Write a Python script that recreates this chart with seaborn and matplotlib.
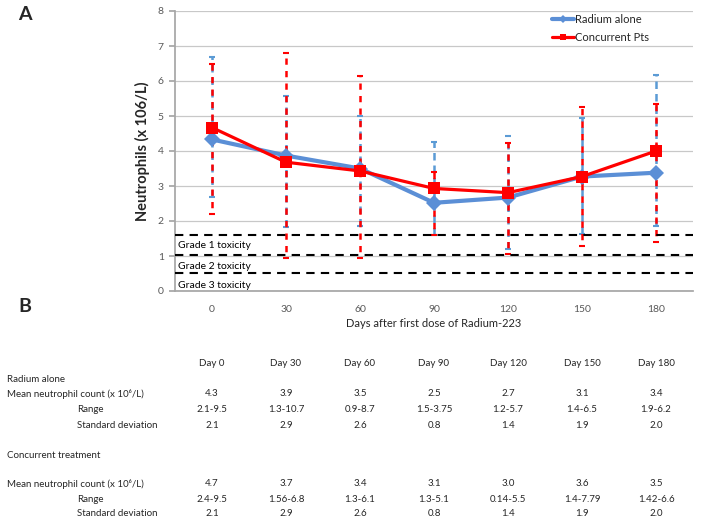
import matplotlib
matplotlib.use("Agg")
import matplotlib.pyplot as plt
import matplotlib.transforms as mtransforms
import seaborn as sns
import pandas as pd

# ---------------- data ----------------
days = ["0", "30", "60", "90", "120", "150", "180"]
radium_mean = [4.33, 3.87, 3.50, 2.52, 2.67, 3.27, 3.38]
radium_hi = [6.68, 5.57, 5.01, 4.27, 4.43, 4.93, 6.16]
radium_lo = [2.68, 1.82, 1.86, 1.61, 1.20, 1.62, 1.86]
conc_mean = [4.67, 3.68, 3.43, 2.93, 2.81, 3.27, 4.00]
conc_hi = [6.48, 6.81, 6.14, 3.40, 4.24, 5.27, 5.33]
conc_lo = [2.19, 0.93, 0.93, 1.61, 1.05, 1.29, 1.41]
tox_levels = [1.6, 1.04, 0.51]
tox_labels = ["Grade 1 toxicity", "Grade 2 toxicity", "Grade 3 toxicity"]
tox_label_y = [1.31, 0.69, 0.15]

table_header = ["Day 0", "Day 30", "Day 60", "Day 90", "Day 120", "Day 150", "Day 180"]
rad_tab_mean = ["4.3", "3.9", "3.5", "2.5", "2.7", "3.1", "3.4"]
rad_tab_range = ["2.1-9.5", "1.3-10.7", "0.9-8.7", "1.5-3.75", "1.2-5.7", "1.4-6.5", "1.9-6.2"]
rad_tab_sd = ["2.1", "2.9", "2.6", "0.8", "1.4", "1.9", "2.0"]
con_tab_mean = ["4.7", "3.7", "3.4", "3.1", "3.0", "3.6", "3.5"]
con_tab_range = ["2.4-9.5", "1.56-6.8", "1.3-6.1", "1.3-5.1", "0.14-5.5", "1.4-7.79", "1.42-6.6"]
con_tab_sd = ["2.1", "2.9", "2.6", "0.8", "1.4", "1.9", "2.0"]

BLUE = "#5B8FD6"
BLUE_ERR = "#5B9BD5"
RED = "#FF0000"

sns.set_theme(style="white")
plt.rcParams["font.family"] = ["Lato", "DejaVu Sans"]

W, H = 701, 524
fig = plt.figure(figsize=(W / 100, H / 100), dpi=100)
ax = fig.add_axes([175 / W, 1 - 291 / H, 518 / W, 280 / H])

df = pd.DataFrame({
    "day": days + days,
    "value": radium_mean + conc_mean,
    "series": ["Radium alone"] * len(days) + ["Concurrent Pts"] * len(days),
})

# error bars (dashed, interleaved)
for mean, hi, lo, col, z, dash in [
        (radium_mean, radium_hi, radium_lo, BLUE_ERR, 2, (0, (3, 2))),
        (conc_mean, conc_hi, conc_lo, RED, 2.5, (2.5, (2.5, 2.5)))]:
    yerr = [[m - l for m, l in zip(mean, lo)], [h - m for m, h in zip(mean, hi)]]
    eb = ax.errorbar(days, mean, yerr=yerr, fmt="none", ecolor=col, elinewidth=1.8,
                     capsize=2, capthick=1.5, zorder=z)
    eb[2][0].set_linestyle(dash)

sns.lineplot(data=df, x="day", y="value", hue="series", style="series",
             hue_order=["Radium alone", "Concurrent Pts"],
             palette={"Radium alone": BLUE, "Concurrent Pts": RED},
             markers={"Radium alone": "D", "Concurrent Pts": "s"},
             dashes=False, sort=False, ax=ax, markersize=8, markeredgewidth=0,
             zorder=4)
for ln in ax.get_lines():
    if str(ln.get_color()).lower() == BLUE.lower():
        ln.set_linewidth(3)
    else:
        ln.set_linewidth(2.3)

for lv in tox_levels:
    ax.axhline(lv, color="black", ls=(0, (4, 3)), lw=1.5, zorder=3)
for lab, yy in zip(tox_labels, tox_label_y):
    ax.text(0.006, yy, lab, transform=ax.get_yaxis_transform(), va="center",
            ha="left", fontsize=7.5, color="black")

ax.set_xlim(-0.5, 6.5)
ax.set_ylim(0, 8)
ax.set_yticks(range(0, 9))
ax.yaxis.grid(True, color="#C8C8C8", lw=0.9)
ax.xaxis.grid(False)
for s in ["top", "right"]:
    ax.spines[s].set_visible(False)
ax.spines["left"].set_color("#A6A6A6")
ax.spines["bottom"].set_color("#A6A6A6")
ax.tick_params(axis="y", left=True, length=4, color="#A6A6A6", labelsize=7.5,
               labelcolor="#595959", pad=4)
ax.tick_params(axis="x", bottom=False, labelsize=7.5, labelcolor="#595959", pad=4)
ax.set_xlabel("Days after first dose of Radium-223", fontsize=8, labelpad=3)
ax.set_ylabel("Neutrophils (x 106/L)", fontsize=10.5, fontweight="bold", labelpad=6)

leg = ax.legend(loc="upper left", bbox_to_anchor=((552 - 175) / 518, (291 - 14) / 280),
                frameon=False, fontsize=8, handlelength=2.0, handletextpad=0.1,
                labelspacing=0.65, borderaxespad=0, borderpad=0)
for h in leg.legend_handles:
    h.set_markersize(4)

fig.text(25 / W, 1 - 15 / H, "A", fontsize=14, fontweight="bold", ha="center", va="center")
fig.text(25 / W, 1 - 307 / H, "B", fontsize=14, fontweight="bold", ha="center", va="center")

# ---------------- table ----------------
tr = mtransforms.blended_transform_factory(ax.transData, fig.transFigure)
FS = 7


def row(y_px, values):
    for i, v in enumerate(values):
        fig.text(i, 1 - y_px / H, v, transform=tr, ha="center", va="center", fontsize=FS)


def left(x_px, y_px, s):
    fig.text(x_px / W, 1 - y_px / H, s, ha="left", va="center", fontsize=FS)


row(364, table_header)
left(7, 379, "Radium alone")
left(7, 394, "Mean neutrophil count (x 10\u2076/L)")
row(394, rad_tab_mean)
left(77, 410, "Range")
row(410, rad_tab_range)
left(77, 425, "Standard deviation")
row(425, rad_tab_sd)
left(7, 456, "Concurrent treatment")
left(7, 484, "Mean neutrophil count (x 10\u2076/L)")
row(484, con_tab_mean)
left(77, 499, "Range")
row(499, con_tab_range)
left(77, 514, "Standard deviation")
row(514, con_tab_sd)

fig.savefig("out.png", dpi=100)
